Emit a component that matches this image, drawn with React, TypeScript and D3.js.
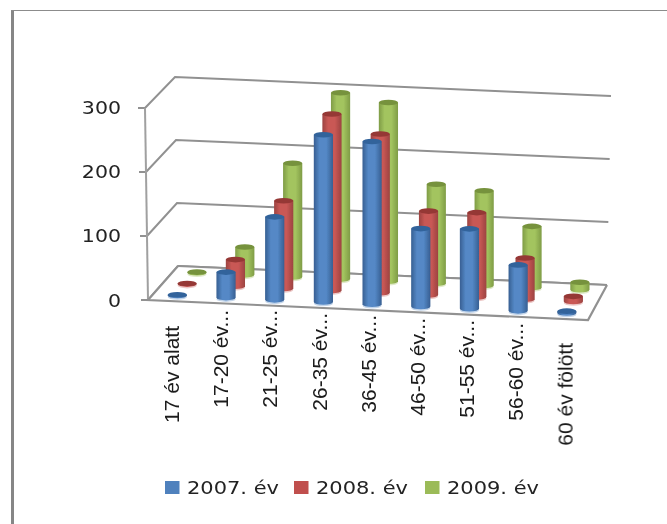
import React from "react";
import * as d3 from "d3";

const categories = ["17 év alatt", "17-20 év...", "21-25 év...", "26-35 év...", "36-45 év...", "46-50 év...", "51-55 év...", "56-60 év...", "60 év fölött"];
const seriesNames = ["2007. év", "2008. év", "2009. év"];
const values2007 = [1, 40, 130, 262, 255, 122, 125, 72, 3];
const values2008 = [1, 42, 138, 278, 250, 132, 133, 65, 8];
const values2009 = [1, 44, 180, 295, 283, 157, 150, 97, 12];
const yTicks = [0, 100, 200, 300];

// Layout (not data)
const labelEnds = [326, 310, 310, 313, 315, 318, 320, 323, 343];
const tickLabelY = [300, 235, 171, 107];
const palette = [
  { top: "#32639b", edge: "#375f92", mid: "#5488c6", halo: "#c3d5ea" },
  { top: "#953735", edge: "#9c4341", mid: "#c95855", halo: "#ecc9c8" },
  { top: "#76923c", edge: "#7f9c46", mid: "#a3c45f", halo: "#dfe9c8" },
];
const swatchColors = ["#4f81bd", "#c0504d", "#9bbb59"];
const legendX = [165, 294, 425];

const FL = [148, 300], FR = [588, 320], BL = [178, 266], BR = [607, 285];
const u = d3.scaleLinear().domain([0, categories.length]).range([0, 1]);
const depth = d3.scaleBand<number>().domain([0, 1, 2]).range([0, 1]);
const lerp = (a: number, b: number, t: number) => a + (b - a) * t;
function floor(un: number, vn: number): [number, number] {
  const fx = lerp(FL[0], FR[0], un), fy = lerp(FL[1], FR[1], un);
  const bx = lerp(BL[0], BR[0], un), by = lerp(BL[1], BR[1], un);
  return [lerp(fx, bx, vn), lerp(fy, by, vn)];
}
const heightFront = d3.scaleLinear().domain([0, 300]).range([0, 192]);
const heightBack = d3.scaleLinear().domain([0, 300]).range([0, 189]);
const h = (val: number, vn: number) => lerp(heightFront(val), heightBack(val), vn);
const allValues = [values2007, values2008, values2009];
const GRID = "#919191";

export default function App() {
  const rx = 9.6, ry = 2.8;
  return (
    <svg width={667} height={524} style={{ position: "absolute", left: 0, top: 0, background: "#fff" }}>
      <defs>
        {palette.map((p, i) => (
          <linearGradient key={i} id={`g${i}`} x1="0" x2="1" y1="0" y2="0">
            <stop offset="0" stopColor={p.edge} />
            <stop offset="0.3" stopColor={p.mid} />
            <stop offset="0.65" stopColor={p.mid} />
            <stop offset="1" stopColor={p.edge} />
          </linearGradient>
        ))}
        <filter id="soft" x="-5%" y="-5%" width="110%" height="110%">
          <feGaussianBlur stdDeviation="0.5" />
        </filter>
        <filter id="softText" x="-5%" y="-5%" width="110%" height="110%">
          <feGaussianBlur stdDeviation="0.35" />
        </filter>
      </defs>
      <rect x={11} y={10} width={3} height={514} fill="#868686" />
      <rect x={11} y={10} width={656} height={1} fill="#8c8c8c" />
      <g filter="url(#soft)">
        {yTicks.map((t) => {
          const [flx, fly] = floor(0, 0);
          const [blx, bly] = floor(0, 1);
          const [brx, bry] = floor(1, 1);
          const dx = -3 * (t / 300);
          return (
            <g key={t} fill="none" stroke={GRID} strokeWidth={2}>
              <polyline points={`${flx + dx},${fly - heightFront(t)} ${blx + dx},${bly - heightBack(t)} ${brx + 4 * (t / 300)},${bry - heightBack(t)}`} />
              <line x1={flx + dx - 7} x2={flx + dx} y1={fly - heightFront(t)} y2={fly - heightFront(t)} />
            </g>
          );
        })}
        <line x1={FL[0]} y1={FL[1]} x2={FL[0] - 3} y2={FL[1] - heightFront(300)} stroke="#a0a0a0" strokeWidth={2} />
        <polygon points={`${FL} ${FR} ${BR} ${BL}`} fill="#fff" stroke="none" />
        <polyline points={`${BL} ${BR}`} fill="none" stroke={GRID} strokeWidth={2} />
        <polyline points={`${BL} ${FL} ${FR} ${BR}`} fill="none" stroke={GRID} strokeWidth={2.2} />
        {[2, 1, 0].map((s) => {
          const vn = (depth(s) as number) + depth.bandwidth() / 2;
          const p = palette[s];
          return (
            <g key={s}>
              {allValues[s].map((val, i) => {
                const [cx, by] = floor(u(i + 0.5), vn);
                const top = by - h(val, vn);
                return (
                  <g key={i}>
                    <ellipse cx={cx} cy={by + 1.5} rx={rx} ry={ry} fill={p.halo} />
                    <path
                      d={`M${cx - rx},${top}L${cx - rx},${by}A${rx},${ry} 0 0 0 ${cx + rx},${by}L${cx + rx},${top}Z`}
                      fill={`url(#g${s})`}
                    />
                    <ellipse cx={cx} cy={top} rx={rx} ry={ry} fill={p.top} />
                  </g>
                );
              })}
            </g>
          );
        })}
      </g>
      <g filter="url(#softText)">
        <g fontFamily="DejaVu Sans" fontSize={18} fill="#222">
          {yTicks.map((t, i) => (
            <text key={t} transform={`translate(121,${tickLabelY[i] + 7}) scale(1.14,1)`} textAnchor="end">{t}</text>
          ))}
        </g>
        <g fontFamily="Liberation Sans" fontSize={21} fill="#1a1a1a">
          {categories.map((c, i) => {
            const x = 179 + i * 49.2;
            return (
              <text key={c} transform={`translate(${x},${labelEnds[i]}) rotate(-90)`} textAnchor="end">{c}</text>
            );
          })}
        </g>
        {seriesNames.map((n, i) => (
          <g key={n}>
            <rect x={legendX[i]} y={481} width={14.5} height={13} fill={swatchColors[i]} />
            <text x={legendX[i] + 22} y={494} fontFamily="DejaVu Sans" fontSize={18} fill="#222" textLength={92} lengthAdjust="spacingAndGlyphs">{n}</text>
          </g>
        ))}
      </g>
    </svg>
  );
}
